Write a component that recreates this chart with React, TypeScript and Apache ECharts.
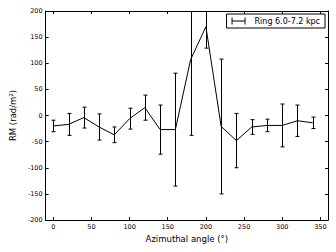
import React, { useEffect, useRef } from "react";
import * as echarts from "echarts";

const angles = [0, 20, 40, 60, 80, 100, 120, 140, 160, 180, 200, 220, 240, 260, 280, 300, 320, 340];
const rmValues = [-20, -17, -4, -22, -37, -6, 15, -27, -27, 107, 170, -21, -48, -22, -19, -19, -10, -14];
const rmErrors = [11, 21, 20, 25, 15, 20, 24, 47, 108, 145, 41, 129, 52, 14, 12, 41, 30, 11];
const xTicks = [0, 50, 100, 150, 200, 250, 300, 350];
const seriesName = "Ring 6.0-7.2 kpc";

const FONT = "DejaVu Sans";

export default function App() {
  const ref = useRef<HTMLDivElement>(null);
  useEffect(() => {
    if (!ref.current) return;
    const chart = echarts.init(ref.current, null, { renderer: "svg" });
    const lineData = angles.map((a, i) => [a, rmValues[i]]);
    const errData = angles.map((a, i) => [a, rmValues[i], rmErrors[i]]);
    const axisCommon = {
      axisLine: { show: true, onZero: false, lineStyle: { color: "#000", width: 1 } },
      splitLine: { show: false },
    };
    const option: any = {
      animation: false,
      backgroundColor: "#fff",
      grid: { left: 42, right: 8, top: 11, bottom: 32 },
      legend: {
        data: [{ name: seriesName, icon: "path://M0,0h1.4v10h-1.4zM0,4.3h20v1.4h-20zM18.6,0h1.4v10h-1.4z" }],
        right: 11,
        top: 14,
        borderColor: "#000",
        borderWidth: 1,
        borderRadius: 0,
        padding: [3, 5, 3, 5],
        itemWidth: 14,
        itemHeight: 7,
        itemStyle: { color: "#000", borderWidth: 0 },
        textStyle: { fontFamily: FONT, fontSize: 8, color: "#000", padding: [0, 0, 0, 4] },
      },
      xAxis: [
        {
          type: "value",
          min: -10,
          max: 360,
          position: "bottom",
          ...axisCommon,
          axisTick: { show: true, inside: true, length: 3, customValues: xTicks, lineStyle: { color: "#000" } },
          axisLabel: { customValues: xTicks, fontFamily: FONT, fontSize: 6.5, color: "#000", margin: 3 },
          name: "Azimuthal angle (°)",
          nameLocation: "middle",
          nameGap: 13,
          nameTextStyle: { fontFamily: FONT, fontSize: 8.5, color: "#000" },
        },
        {
          type: "value",
          min: -10,
          max: 360,
          position: "top",
          ...axisCommon,
          axisTick: { show: true, inside: true, length: 3, customValues: xTicks, lineStyle: { color: "#000" } },
          axisLabel: { show: false },
        },
      ],
      yAxis: [
        {
          type: "value",
          min: -200,
          max: 200,
          interval: 50,
          position: "left",
          ...axisCommon,
          axisTick: { show: true, inside: true, length: 3, lineStyle: { color: "#000" } },
          axisLabel: { fontFamily: FONT, fontSize: 6.5, color: "#000", margin: 3 },
          name: "RM (rad/m²)",
          nameLocation: "middle",
          nameGap: 23,
          nameTextStyle: { fontFamily: FONT, fontSize: 8.5, color: "#000" },
        },
        {
          type: "value",
          min: -200,
          max: 200,
          interval: 50,
          position: "right",
          ...axisCommon,
          axisTick: { show: true, inside: true, length: 3, lineStyle: { color: "#000" } },
          axisLabel: { show: false },
        },
      ],
      series: [
        {
          name: seriesName,
          type: "custom",
          xAxisIndex: 0,
          yAxisIndex: 0,
          itemStyle: { color: "#000" },
          data: errData,
          encode: { x: 0, y: 1 },
          renderItem: (params: any, api: any) => {
            const x = api.value(0);
            const y = api.value(1);
            const e = api.value(2);
            const top = api.coord([x, y + e]);
            const bot = api.coord([x, y - e]);
            const cs = params.coordSys;
            const minY = cs.y;
            const maxY = cs.y + cs.height;
            const px = Math.round(top[0]) + 0.5;
            const y1 = Math.max(top[1], minY);
            const y2 = Math.min(bot[1], maxY);
            const style = { stroke: "#000", lineWidth: 1, fill: "none" };
            const children: any[] = [
              { type: "line", shape: { x1: px, y1, x2: px, y2 }, style },
            ];
            if (top[1] >= minY) {
              children.push({ type: "line", shape: { x1: px - 2, y1: top[1], x2: px + 2, y2: top[1] }, style });
            }
            if (bot[1] <= maxY) {
              children.push({ type: "line", shape: { x1: px - 2, y1: bot[1], x2: px + 2, y2: bot[1] }, style });
            }
            return { type: "group", children };
          },
          z: 3,
        },
        {
          name: seriesName,
          type: "line",
          xAxisIndex: 0,
          yAxisIndex: 0,
          data: lineData,
          symbol: "none",
          lineStyle: { color: "#000", width: 1 },
          itemStyle: { color: "#000" },
          z: 4,
        },
      ],
    };
    chart.setOption(option);
    return () => chart.dispose();
  }, []);
  return (
    <div
      ref={ref}
      style={{ position: "fixed", left: 0, top: 0, width: 336, height: 252, background: "#fff" }}
    />
  );
}
